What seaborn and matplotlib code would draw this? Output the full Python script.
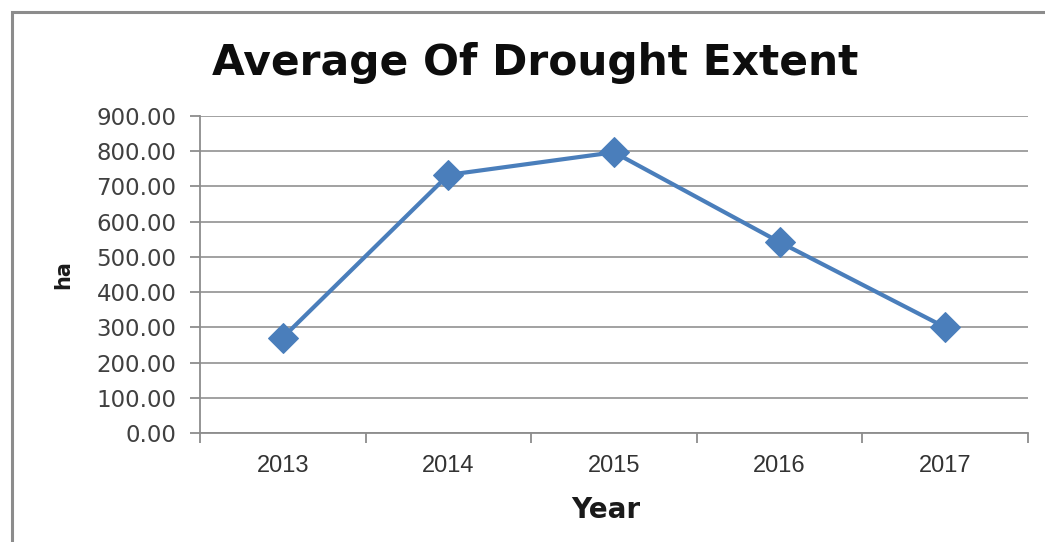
import matplotlib
matplotlib.use("Agg")
import matplotlib.pyplot as plt
import seaborn as sns
import numpy as np
from matplotlib.patches import Rectangle
from matplotlib.ticker import FixedLocator, FormatStrFormatter

years = ["2013", "2014", "2015", "2016", "2017"]
drought_ha = [271, 733, 797, 542, 300]
y_ticks = [0, 100, 200, 300, 400, 500, 600, 700, 800, 900]

title_text = "Average Of Drought Extent"
x_label = "Year"
y_label = "ha"

sns.set_style("white")
plt.rcParams["font.family"] = ["DejaVu Sans"]

fig = plt.figure(figsize=(10.45, 5.42), dpi=100)
ax = fig.add_axes([200/1045, 1-433/542, (1028-200)/1045, (433-116)/542])

# outer chart frame (Excel style)
fig.patches.append(Rectangle((12/1045, -0.1), 1.2, 1-12/542+0.1, transform=fig.transFigure,
                             fill=False, edgecolor="#8c8c8c", linewidth=2.2))

line_color = "#4a7ebb"
sns.lineplot(x=years, y=drought_ha, ax=ax, color=line_color, linewidth=3.0,
             marker="D", markersize=15, markeredgecolor=line_color, sort=False)

ax.set_xlim(-0.5, 4.5)
ax.set_ylim(0, 900)
ax.set_yticks(y_ticks)
ax.yaxis.set_major_formatter(FormatStrFormatter("%.2f"))
ax.grid(axis="y", color="#9a9a9a", linewidth=1.3)
ax.grid(axis="x", visible=False)
ax.set_axisbelow(True)

for s in ["top", "right"]:
    ax.spines[s].set_visible(False)
for s in ["left", "bottom"]:
    ax.spines[s].set_color("#8c8c8c")
    ax.spines[s].set_linewidth(1.3)

ax.tick_params(axis="y", which="major", length=7, width=1.3, color="#8c8c8c",
               direction="out", labelsize=16.5, labelcolor="#404040", pad=10, left=True)
ax.xaxis.set_minor_locator(FixedLocator(np.arange(-0.5, 5.0, 1.0)))
ax.tick_params(axis="x", which="major", length=0, labelsize=16, labelcolor="#333333", pad=16)
ax.tick_params(axis="x", which="minor", length=7, width=1.3, color="#8c8c8c",
               direction="out", bottom=True)
for lbl in ax.get_xticklabels():
    lbl.set_family(["Liberation Sans", "DejaVu Sans"])
    lbl.set_fontsize(17)

ax.set_xlabel(x_label, fontsize=20, fontweight="bold", family=["DejaVu Sans"],
              labelpad=12, color="#1a1a1a")
ax.xaxis.set_label_coords(0.49, -0.2)
ax.set_ylabel(y_label, fontsize=15, fontweight="bold", color="#1a1a1a")
ax.yaxis.set_label_coords(-0.153, 0.5)

fig.text(535/1045, 1-63/542, title_text, ha="center", va="center",
         fontsize=30.5, fontweight="bold", family=["DejaVu Sans"],
         color="#0d0d0d")

fig.savefig("out.png", dpi=100)
